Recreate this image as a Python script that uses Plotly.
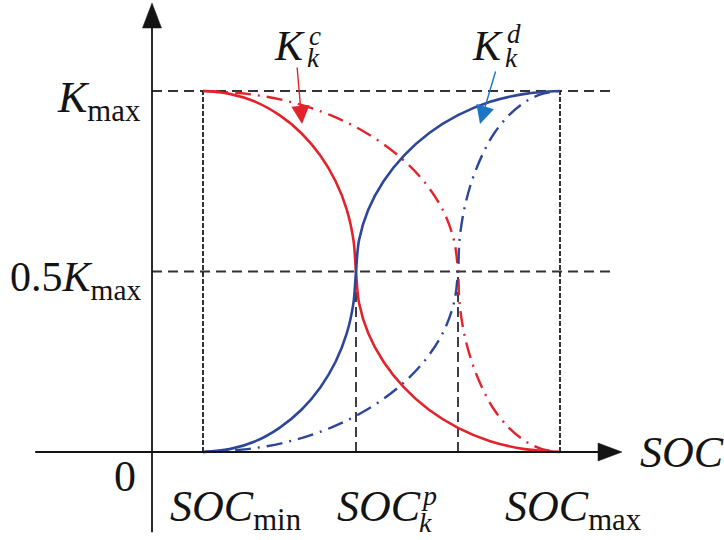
import plotly.graph_objects as go

# ---- data (normalised units: SOC on x, K/Kmax on y) ----
soc_marks = [0.1, 0.4, 0.6, 0.8]          # SOCmin, SOCk^p, second knee, SOCmax
k_levels = [0.0, 0.5, 1.0]                 # 0, 0.5Kmax, Kmax

kc_solid_x = [0.1, 0.152, 0.203, 0.25, 0.293, 0.330, 0.360, 0.382, 0.395, 0.4,
              0.406, 0.424, 0.454, 0.494, 0.543, 0.6, 0.663, 0.731, 0.8]
kc_solid_y = [1.0, 0.992, 0.970, 0.933, 0.883, 0.821, 0.75, 0.671, 0.587, 0.5,
              0.413, 0.329, 0.25, 0.179, 0.117, 0.067, 0.030, 0.008, 0.0]

kd_solid_x = [0.1, 0.152, 0.203, 0.25, 0.293, 0.330, 0.360, 0.382, 0.395, 0.4,
              0.406, 0.424, 0.454, 0.494, 0.543, 0.6, 0.663, 0.731, 0.8]
kd_solid_y = [0.0, 0.008, 0.030, 0.067, 0.117, 0.179, 0.25, 0.329, 0.413, 0.5,
              0.587, 0.671, 0.75, 0.821, 0.883, 0.933, 0.970, 0.992, 1.0]

kc_dash_x = [0.1, 0.187, 0.271, 0.35, 0.421, 0.483, 0.533, 0.570, 0.592, 0.6,
             0.603, 0.612, 0.627, 0.647, 0.671, 0.7, 0.732, 0.765, 0.8]
kc_dash_y = [1.0, 0.992, 0.970, 0.933, 0.883, 0.821, 0.75, 0.671, 0.587, 0.5,
             0.413, 0.329, 0.25, 0.179, 0.117, 0.067, 0.030, 0.008, 0.0]

kd_dash_x = [0.1, 0.187, 0.271, 0.35, 0.421, 0.483, 0.533, 0.570, 0.592, 0.6,
             0.603, 0.612, 0.627, 0.647, 0.671, 0.7, 0.732, 0.765, 0.8]
kd_dash_y = [0.0, 0.008, 0.030, 0.067, 0.117, 0.179, 0.25, 0.329, 0.413, 0.5,
             0.587, 0.671, 0.75, 0.821, 0.883, 0.933, 0.970, 0.992, 1.0]

RED = "#E3232B"
BLUE = "#2E4699"
ARROW_BLUE = "#1C74C4"
INK = "#141414"
FONT = "Liberation Serif"

fig = go.Figure()

# dash-dot curves first (behind)
fig.add_trace(go.Scatter(x=kc_dash_x, y=kc_dash_y, mode="lines",
                         line=dict(color=RED, width=2.4, dash="16px,7px,2px,7px", shape="spline", smoothing=1.0),
                         hoverinfo="skip", showlegend=False))
fig.add_trace(go.Scatter(x=kd_dash_x, y=kd_dash_y, mode="lines",
                         line=dict(color=BLUE, width=2.4, dash="16px,7px,2px,7px", shape="spline", smoothing=1.0),
                         hoverinfo="skip", showlegend=False))
fig.add_trace(go.Scatter(x=kc_solid_x, y=kc_solid_y, mode="lines",
                         line=dict(color=RED, width=2.6, shape="spline", smoothing=1.0),
                         hoverinfo="skip", showlegend=False))
fig.add_trace(go.Scatter(x=kd_solid_x, y=kd_solid_y, mode="lines",
                         line=dict(color=BLUE, width=2.6, shape="spline", smoothing=1.0),
                         hoverinfo="skip", showlegend=False))

shapes = []
GRID = "#333333"
x_end_dash = 0.906
# horizontal dashed guides
for lv in k_levels[1:]:
    shapes.append(dict(type="line", xref="x", yref="y", x0=0, x1=x_end_dash, y0=lv, y1=lv,
                       line=dict(color=GRID, width=1.8, dash="10px,6px"), layer="below"))
# vertical dashed guides
for s in (soc_marks[0], soc_marks[3]):
    shapes.append(dict(type="line", xref="x", yref="y", x0=s, x1=s, y0=0, y1=k_levels[2],
                       line=dict(color="#000000", width=1.6, dash="5px,2px"), layer="below"))
for s in (soc_marks[1], soc_marks[2]):
    shapes.append(dict(type="line", xref="x", yref="y", x0=s, x1=s, y0=0, y1=k_levels[1],
                       line=dict(color="#000000", width=1.5, dash="10px,5px"), layer="below"))

# axes
shapes.append(dict(type="line", xref="x", yref="y", x0=0, x1=0, y0=-0.222, y1=1.18,
                   line=dict(color=INK, width=1.8)))
shapes.append(dict(type="line", xref="x", yref="y", x0=-0.229, x1=0.88, y0=0, y1=0,
                   line=dict(color=INK, width=1.8)))
shapes.append(dict(type="path", xref="x", yref="y",
                   path="M 0 1.2438 L -0.0186 1.1745 L 0.0186 1.1745 Z",
                   fillcolor=INK, line=dict(color=INK, width=0.5)))
shapes.append(dict(type="path", xref="x", yref="y",
                   path="M 0.9216 0 L 0.8745 0.025 L 0.8745 -0.025 Z",
                   fillcolor=INK, line=dict(color=INK, width=0.5)))

ann = []
def txt(x, y, text, size=44, xanchor="left", yanchor="middle", color=INK):
    ann.append(dict(x=x, y=y, xref="x", yref="y", text=text, showarrow=False,
                    xanchor=xanchor, yanchor=yanchor,
                    font=dict(family=FONT, size=size, color=color)))

def px_x(p):
    return (p - 152) / 510.0

def px_y(p):
    return (452 - p) / 361.0

txt(px_x(143), px_y(100), "<i>K</i><sub>max</sub>", xanchor="right")
txt(px_x(143), px_y(280), "0.5<i>K</i><sub>max</sub>", size=42, xanchor="right")
txt(px_x(125), px_y(476), "0", xanchor="center")
txt(px_x(168), px_y(509), "<i>SOC</i><sub>min</sub>")
txt(px_x(335), px_y(506), "<i>SOC</i>")
txt(px_x(419), px_y(495), "<i>p</i>", size=28)
txt(px_x(417), px_y(522), "<i>k</i>", size=28)
txt(px_x(503), px_y(509), "<i>SOC</i><sub>max</sub>")
txt(px_x(638), px_y(452), "<i>SOC</i>")
# K_k^c and K_k^d
txt(px_x(272), px_y(46), "<i>K</i>", size=42)
txt(px_x(307), px_y(36), "<i>c</i>", size=27)
txt(px_x(305), px_y(58), "<i>k</i>", size=27)
txt(px_x(470), px_y(46), "<i>K</i>", size=42)
txt(px_x(505), px_y(34), "<i>d</i>", size=27)
txt(px_x(503), px_y(58), "<i>k</i>", size=27)

# label arrows
ann.append(dict(x=px_x(302), y=px_y(124), ax=px_x(297), ay=px_y(66), xref="x", yref="y",
                axref="x", ayref="y", showarrow=True, text="", arrowhead=2,
                arrowsize=2.6, arrowwidth=1.4, arrowcolor=RED))
ann.append(dict(x=px_x(480), y=px_y(124), ax=px_x(496), ay=px_y(70), xref="x", yref="y",
                axref="x", ayref="y", showarrow=True, text="", arrowhead=2,
                arrowsize=2.6, arrowwidth=1.4, arrowcolor=ARROW_BLUE))

fig.update_layout(
    width=724, height=540,
    margin=dict(l=0, r=0, t=0, b=0),
    paper_bgcolor="white", plot_bgcolor="white",
    font=dict(family=FONT),
    xaxis=dict(range=[-152 / 510.0, (724 - 152) / 510.0], visible=False, fixedrange=True),
    yaxis=dict(range=[-88 / 361.0, 452 / 361.0], visible=False, fixedrange=True),
    shapes=shapes, annotations=ann, showlegend=False,
)

fig.write_html("out.html")
